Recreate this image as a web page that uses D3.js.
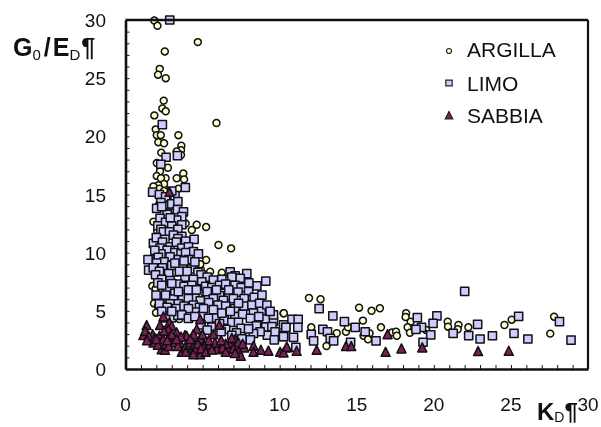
<!DOCTYPE html>
<html><head><meta charset="utf-8">
<script src="https://cdnjs.cloudflare.com/ajax/libs/d3/7.8.5/d3.min.js"></script>
<style>html,body{margin:0;background:#fff}svg{display:block;filter:blur(0.35px)}text{font-family:"Liberation Sans",Arial,sans-serif;fill:#111}</style>
</head><body><svg id="c" width="601" height="427"></svg>
<script>
const seriesNames=["ARGILLA","LIMO","SABBIA"];
const xLabels=[0,5,10,15,20,25,30];
const yLabels=[0,5,10,15,20,25,30];
const argilla=[[1.87,29.95],[2.07,29.5],[4.69,28.1],[2.55,27.3],[2.22,25.8],[2.11,25.3],[2.61,25],[2.48,23.07],[2.39,22.4],[2.61,22.15],[1.87,21.8],[5.9,21.15],[1.96,20.6],[2.03,20.1],[2.29,20.1],[3.43,20.1],[2.13,19.5],[2.5,19.4],[3.62,19.2],[3.6,18.8],[2.32,18.6],[3.32,18.7],[3.6,18.4],[2.03,17.7],[2.75,17.3],[2.24,17],[3.75,16.8],[3.32,16.4],[3.8,16.3],[2.03,16.6],[2.6,16.4],[2.3,16.4],[2.5,15.9],[2.13,15.8],[1.81,15.7],[3.43,15.5],[2.2,15.5],[2.5,15.3],[2.85,14.4],[2.35,14.6],[2.6,14.1],[2.2,14.2],[3,14],[2.7,13.4],[2.89,13.24],[1.81,12.66],[2.46,12.66],[3.1,12.9],[4.62,12.4],[5.23,12.2],[4.3,11.95],[3.9,12.5],[2.05,11.9],[2.5,11.5],[6.03,10.66],[6.85,10.37],[1.92,10.37],[2,9.7],[5.23,9.37],[4.88,8.57],[4.85,9],[5.49,8.37],[6.25,8.28],[1.74,7.13],[2.05,7.7],[1.95,6.9],[7.98,6.65],[8.1,6.2],[1.85,5.64],[2.1,5.4],[1.98,4.84],[2.6,4.5],[3.5,4.3],[8.9,4.84],[9,4.5],[10.25,4.79],[11.9,6.1],[12.65,6],[15.15,5.27],[15.96,5],[16.5,5.22],[10.27,4.79],[12.05,3.58],[13.7,3.07],[13.04,1.98],[14.3,3.2],[14.43,3.58],[15.4,4.16],[15.44,2.86],[15.83,3.07],[15.73,2.55],[16.57,3.58],[17.3,3.15],[17.55,3.2],[17.6,2.86],[18.2,4.79],[18.17,4.47],[18.5,4.07],[18.3,3.58],[18.45,3.12],[19.5,3.35],[20.9,4.07],[20.92,3.64],[21.6,3.78],[21.55,3.41],[22.24,3.58],[24.58,3.78],[25.05,4.24],[27.8,4.5],[27.55,3.04]];
const limo=[[2.87,30],[2.39,21],[2.63,18.2],[3.37,18.35],[2.29,17.6],[3.88,15.6],[1.76,15.2],[3.21,14.9],[2.2,15],[3,15.3],[2.6,14.8],[2.3,14.3],[3,14.2],[2.7,13.3],[3.4,14.4],[2.02,13.8],[2.35,13.95],[3.37,13.7],[3.76,13.5],[3.65,13.1],[2.24,12.95],[3.32,12.8],[3.65,12.4],[2.1,12.3],[2.6,12.6],[3,12.3],[3.4,12],[2.9,13],[2.3,12],[2.46,11.8],[2.85,11.8],[3.11,11.5],[3.65,11.4],[4.45,11.15],[1.81,10.8],[2.56,11.15],[2,11.3],[2.4,10.9],[3.4,11.2],[3.9,11],[2.89,10.5],[3.3,10.9],[3.65,10.4],[4.08,10.5],[2.24,10.4],[2.7,10.2],[3.2,10],[3.6,9.9],[2.3,9.9],[4.4,10.1],[1.9,10.2],[3.9,10],[4.73,9.9],[2.13,9.6],[2.89,9.65],[3.43,9.4],[4.08,9.4],[1.46,9.4],[2.5,9.2],[1.5,8.5],[2.02,9.1],[2.56,8.35],[3.21,8.35],[3.86,7.9],[3,8.9],[3.7,8.9],[4.3,8.6],[2.4,8.7],[2.8,8.2],[3.5,8.4],[4,8.4],[4.7,8.3],[1.8,8.7],[3.2,9.1],[3.8,9.3],[4.5,9.2],[2.2,8.4],[4.9,8.1],[5.3,7.9],[1.95,8.1],[2.35,7.7],[2.9,7.6],[3.4,7.3],[4.4,7.7],[4.95,7.5],[5.7,7.65],[6.25,7.7],[6.79,8.35],[7.11,8],[7.87,8.2],[7.44,7.8],[6.9,7.9],[9.1,7.55],[8.52,7.15],[2.1,7.4],[2.7,6.9],[3.2,6.5],[3.8,7.1],[4.3,7.2],[4.9,6.9],[5.2,7.1],[5.6,7],[6.1,7.2],[6.5,7.3],[7.1,7.2],[7.5,7],[8,7.4],[3.7,6.2],[4.5,6.1],[5.2,6],[6.1,6.3],[6.7,6.3],[7.3,6.6],[2.3,6],[3.1,6],[2.35,7.2],[3,7.35],[3.43,6.65],[4.08,6.8],[4.6,6.8],[5.3,6.65],[5.9,6.8],[6.7,6.8],[7.98,6.65],[1.98,6.35],[2.6,6.35],[4.08,6.05],[4.85,5.85],[5.7,6.05],[6.35,5.9],[7,6.05],[7.7,6.05],[8.35,6.15],[8.85,6.35],[2.9,5.6],[3.43,5.6],[2.2,5.6],[2.7,5.3],[3.3,5.2],[3.8,5.4],[4.4,5.5],[4.8,5.3],[5.4,5.7],[6,5.5],[6.5,5.4],[7.1,5.2],[7.7,5.4],[8.2,5.5],[8.8,5],[3,4.4],[3.4,4.6],[4.6,4.9],[5,4.6],[5.8,4.4],[6.4,4.2],[7.1,4.5],[7.6,4.7],[8.3,4.8],[9.1,4.3],[9.6,4.1],[2.6,4.4],[5.06,5.2],[5.7,5.1],[6.25,4.8],[6.8,4.95],[7.33,5.65],[8.7,5.65],[9.17,5.5],[9.6,4.65],[9.38,4.95],[2.35,4.95],[3,4.95],[4.08,5.2],[3.65,4.65],[4.08,4.35],[4.5,4.5],[5.38,4.35],[6.9,4],[7.33,4],[8.1,4.35],[8.65,4.5],[5.6,3.6],[6.5,3.4],[7.5,3.5],[8.5,3.7],[9.1,3.6],[4.9,3.8],[8,2.9],[9.2,2.9],[7.2,3.1],[6.2,3.2],[9.8,2.9],[9.5,3.65],[10.25,3.8],[10.4,3.55],[8.73,3.2],[8.3,3.05],[9.7,3.2],[10.25,2.8],[9.65,2.5],[5.3,3.35],[6.1,3.9],[7.98,3.45],[6.9,2.9],[8.1,2.5],[7.55,2.6],[10.8,4.27],[11.2,4.27],[11.18,3.58],[10.4,3.58],[10.9,2.72],[10.25,2.78],[11.05,1.87],[12.56,5.19],[13.45,4.56],[14.2,4.07],[14.9,3.58],[15.55,3.2],[12.8,3.41],[13.1,3.2],[13.28,2.64],[13.5,2.41],[12.05,2.98],[12.2,2.41],[14.6,2.3],[16.25,2.41],[18.93,4.42],[20.2,4.56],[19.95,3.93],[19.2,3.58],[18.84,3.41],[19.8,2.93],[19.3,2.3],[21.25,3.07],[22,6.68],[22.26,2.87],[22.84,3.84],[23,2.58],[23.8,2.86],[25.5,4.53],[25.2,3.07],[26.1,2.58],[28.15,4.07],[28.9,2.49]];
const sabbia=[[2.85,15.15],[2.46,4.44],[1.37,3.7],[2.24,3.7],[2.85,3.93],[3,3.64],[4.84,4.2],[6.09,3.72],[1.16,2.84],[1.76,2.9],[1.27,3.2],[2.2,2.78],[2.78,3.35],[3.32,3.07],[3.86,2.84],[4.62,3.35],[4.4,2.92],[5.7,2.92],[1.81,2.2],[2.35,1.63],[2.56,1.58],[2.24,2.2],[3.11,2.2],[3.65,1.4],[4.19,1.4],[4.84,1.2],[5.38,1.63],[5.92,1.63],[6.68,1.63],[7.33,1.5],[7.48,1.06],[7.7,1.78],[8.3,1.92],[8.3,1.4],[8.78,1.58],[9.27,1.5],[10.03,1.4],[10.47,1.78],[2.89,2.78],[3.54,2.2],[4.08,2.2],[4.5,2.06],[5.06,2.2],[5.49,2.06],[6.14,2.2],[6.79,2.2],[7.11,2.5],[6.5,2.1],[3.86,1.78],[4.5,1.63],[5.06,1.78],[6.3,1.75],[1.5,2.78],[2.46,2.5],[3.97,2.78],[4.84,2.55],[5.8,2.2],[7.33,2.2],[1.4,2.4],[1.9,2.6],[2.1,2],[2.6,2.1],[2.8,1.9],[3,2.9],[3.4,1.9],[3.6,2.7],[4.2,2.5],[4.7,2.1],[4.9,1.7],[5.2,1.4],[5.6,1.6],[6.2,2.4],[6.5,1.4],[7,1.7],[7.1,1.3],[3.9,1.4],[4.4,1.2],[5,2.9],[2.5,3.2],[2,2.5],[2.7,2.4],[3.3,2.5],[5.4,2.4],[6.9,2.6],[7.6,2.1],[10.25,1.35],[10.46,1.84],[11.1,1.49],[12.4,1.57],[14.3,1.89],[14.64,1.89],[16.87,1.4],[17,2.92],[17.9,1.69],[19.25,1.78],[22.87,1.46],[24.86,1.49]];

const svg=d3.select("#c");
const x=d3.scaleLinear().domain([0,30]).range([125.5,588]);
const y=d3.scaleLinear().domain([0,30]).range([369,20]);
const ink="#111";

function tri(s){return `M0,${-s*0.6}L${s*0.5},${s*0.4}L${-s*0.5},${s*0.4}Z`;}
const styles=[
 {d:d3.symbol(d3.symbolCircle,38)(),fill:"#ffffcc",dl:d3.symbol(d3.symbolCircle,20)()},
 {d:"M-4.1,-4.1H4.1V4.1H-4.1Z",fill:"#ccccff",dl:"M-3.2,-2.8H3.2V2.8H-3.2Z"},
 {d:tri(9),fill:"#7d1f5a",dl:tri(7.5)}];
[argilla,limo,sabbia].forEach((data,i)=>{
  svg.append("g").selectAll("path").data(data).join("path")
    .attr("transform",d=>`translate(${x(d[0])},${y(d[1])})`)
    .attr("d",styles[i].d).attr("fill",styles[i].fill)
    .attr("stroke","#111").attr("stroke-width",1.5).attr("stroke-linejoin","round");
});

const minor=d3.range(0,31);
const gx=svg.append("g").attr("transform","translate(0,369)").call(d3.axisBottom(x).tickValues(minor).tickSizeInner(-4).tickSizeOuter(0).tickFormat(""));
const gy=svg.append("g").attr("transform","translate(125.5,0)").call(d3.axisLeft(y).tickValues(minor).tickSizeInner(-4).tickSizeOuter(0).tickFormat(""));
[gx,gy].forEach(g=>{g.selectAll("line").attr("stroke",ink).attr("stroke-width",1);g.select(".domain").attr("stroke",ink).attr("stroke-width",2.6);});
svg.append("line").attr("x1",x(0)).attr("x2",x(30)).attr("y1",y(30)).attr("y2",y(30)).attr("stroke",ink).attr("stroke-width",2.6);
svg.append("line").attr("x1",x(30)).attr("x2",x(30)).attr("y1",y(30)).attr("y2",y(0)).attr("stroke",ink).attr("stroke-width",2.2);

svg.append("g").selectAll("text").data(xLabels).join("text").attr("x",d=>x(d)).attr("y",411)
  .attr("text-anchor","middle").attr("font-size",19).text(d=>d);
svg.append("g").selectAll("text").data(yLabels).join("text").attr("x",106).attr("y",d=>y(d)+7)
  .attr("text-anchor","end").attr("font-size",19).text(d=>d);

const lg=svg.append("g");
const lgY=[51,83,116];
const lgBase=[57,91,123];
seriesNames.forEach((n,i)=>{
  lg.append("path").attr("transform",`translate(449,${lgY[i]})`).attr("d",styles[i].dl)
    .attr("fill",styles[i].fill).attr("stroke","#222").attr("stroke-width",1.2);
  lg.append("text").attr("x",467).attr("y",lgBase[i]).attr("font-size",21).text(n);
});

const t1=svg.append("text").attr("x",13).attr("y",56).attr("font-weight","bold").attr("font-size",25);
t1.append("tspan").text("G");
t1.append("tspan").attr("font-size",15).attr("dy",4).attr("font-weight","normal").text("0");
t1.append("tspan").attr("dy",-4).attr("dx",3).text("/");
t1.append("tspan").attr("dx",2).text("E");
t1.append("tspan").attr("font-size",15).attr("dy",4).attr("font-weight","normal").text("D");
t1.append("tspan").attr("dy",-4).attr("dx",1).text("¶");
const t2=svg.append("text").attr("x",537).attr("y",420).attr("font-weight","bold").attr("font-size",24);
t2.append("tspan").text("K");
t2.append("tspan").attr("font-size",14).attr("dy",2).attr("font-weight","normal").text("D");
t2.append("tspan").attr("dy",-2).text("¶");
</script></body></html>
